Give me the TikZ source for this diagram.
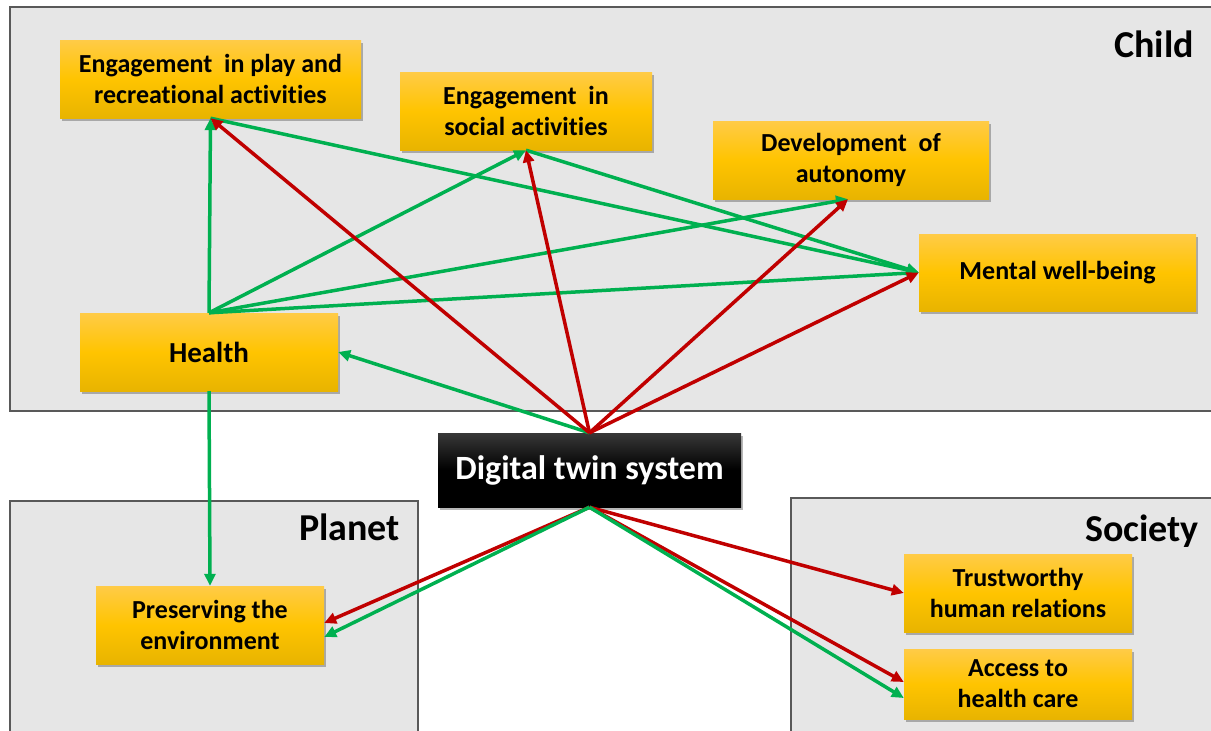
\documentclass[tikz,border=0pt]{standalone}
\usepackage{fontspec}
\setmainfont{Carlito}[Ligatures={NoCommon,NoContextual}]
\usetikzlibrary{arrows.meta,shadows,calc}
\definecolor{pgray}{HTML}{E6E6E6}
\definecolor{pborder}{HTML}{595959}
\definecolor{agreen}{HTML}{00B050}
\definecolor{ared}{HTML}{C00000}
\definecolor{otop}{HTML}{FFCB47}
\definecolor{omid}{HTML}{FFC400}
\definecolor{obot}{HTML}{E8B400}
\newcommand\nolig{\kern0pt}
\begin{document}
\begin{tikzpicture}[x=1pt,y=-1pt,
  panel/.style={fill=pgray,draw=pborder,line width=1.2pt},
  goal/.style={draw=none,top color=otop,bottom color=obot,middle color=omid,
    drop shadow={shadow xshift=2pt,shadow yshift=-3pt,opacity=0.4,fill=black!70},
    font=\bfseries\fontsize{26}{31}\selectfont,align=center,inner sep=0pt,text=black},
  dtbox/.style={draw=none,top color=black!78,bottom color=black,middle color=black,
    drop shadow={shadow xshift=2pt,shadow yshift=-3pt,opacity=0.4,fill=black!70},
    font=\bfseries\fontsize{34}{40}\selectfont,text=white,inner sep=0pt},
  ptitle/.style={font=\bfseries\fontsize{38}{44}\selectfont,anchor=base east,inner sep=0pt},
  gar/.style={draw=agreen,line width=3.5pt,-{Triangle[length=12pt,width=11pt]}},
  rar/.style={draw=ared,line width=3.5pt,-{Triangle[length=12pt,width=11pt]}}
]
\useasboundingbox (0,0) rectangle (1211,731);
\clip (0,0) rectangle (1211,731);
\fill[white] (0,0) rectangle (1211,731);
% panels
\draw[panel] (10,7) rectangle (1225,411);
\draw[panel] (10,501) rectangle (418,745);
\draw[panel] (791,498) rectangle (1225,745);
\node[ptitle] (tchild) at (1194,57) {Child};
\node[ptitle] (tplanet) at (400,540) {Planet};
\node[ptitle] (tsociety) at (1199,541) {Society};
% boxes
\node[goal,minimum width=301pt,minimum height=78pt] (play) at (210.5,79) {Engagement\ \ in play and\\recreational act\nolig ivit\nolig ies};
\node[goal,minimum width=252pt,minimum height=78pt] (social) at (526,111) {Engagement\ \ in\\social act\nolig ivit\nolig ies};
\node[goal,minimum width=276pt,minimum height=78pt] (auto) at (851,160) {Development\ \ of\\autonomy};
\node[goal,minimum width=277pt,minimum height=77pt] (mental) at (1057.5,272.5) {Mental well-being};
\node[goal,minimum width=258pt,minimum height=78pt,font=\bfseries\fontsize{29}{34}\selectfont] (health) at (209,352) {Health};
\node[dtbox,minimum width=303pt,minimum height=74pt] (dt) at (589.5,470) {Digital twin system};
\node[goal,minimum width=228pt,minimum height=78pt] (pres) at (210,625) {Preserving the\\environment};
\node[goal,minimum width=228pt,minimum height=78pt] (trust) at (1018,593) {Trustworthy\\human relations};
\node[goal,minimum width=228pt,minimum height=70pt] (access) at (1018,684) {Access to\\health care};
% green arrows
\draw[gar] (health.north) -- (play.south);
\draw[gar] (health.north) -- (social.south);
\draw[gar] (health.north) -- ([xshift=-3pt]auto.south);
\draw[gar] (health.north) -- (mental.west);
\draw[gar] (play.south) -- (mental.west);
\draw[gar] (social.south) -- (mental.west);
\draw[gar] (dt.north) -- (health.east);
\draw[gar] (health.south) -- (pres.north);
% red arrows
\draw[rar] (dt.north) -- (play.south);
\draw[rar] (dt.north) -- (social.south);
\draw[rar] (dt.north) -- ([xshift=-3pt]auto.south);
\draw[rar] (dt.north) -- (mental.west);
\draw[rar] (dt.south) -- ([yshift=2pt]pres.east);
\draw[rar] (dt.south) -- (trust.west);
\draw[rar] (dt.south) -- ([yshift=2pt]access.west);
\draw[gar] (dt.south) -- ([yshift=-12pt]pres.east);
\draw[gar] (dt.south) -- ([yshift=-14pt]access.west);
\end{tikzpicture}
\end{document}
